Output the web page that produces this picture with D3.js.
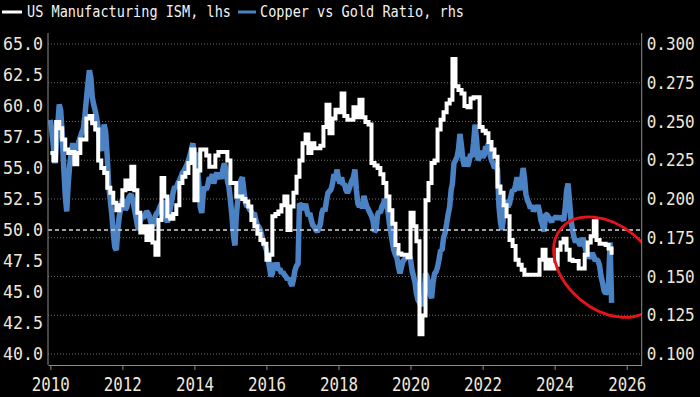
<!DOCTYPE html>
<html>
<head>
<meta charset="utf-8">
<script src="https://cdn.jsdelivr.net/npm/d3@7"></script>
<style>
  html, body { margin: 0; padding: 0; background: #000; }
  svg { display: block; }
</style>
</head>
<body>
<div id="chart"></div>
<script>
// monthly ISM readings, Jan 2010 .. Aug 2025
const ismValues = [
  56.2, 55.6, 58.7, 58.2, 57.3, 56.5, 56.2, 56.3, 55.3, 56.2, 57.3, 57.3,
  59.0, 59.2, 58.6, 58.1, 55.6, 55.0, 54.6, 53.4, 53.0, 52.2, 51.6, 52.0,
  53.2, 54.0, 53.3, 55.1, 53.2, 51.4, 49.8, 50.3, 49.2, 50.3, 49.0, 48.0,
  50.8, 54.2, 52.7, 51.1, 50.9, 51.3, 52.0, 53.8, 54.3, 54.6, 55.4, 56.5,
  52.4, 54.8, 56.5, 56.5, 56.0, 55.1, 55.1, 56.0, 56.3, 56.3, 56.3, 55.6,
  53.8, 53.8, 52.7, 52.7, 52.5, 52.3, 51.9, 50.8, 50.3, 49.7, 49.2, 48.9,
  47.6, 48.0, 51.1, 51.3, 51.5, 52.0, 52.7, 50.0, 51.9, 53.0, 54.3, 55.6,
  57.0, 57.7, 56.2, 57.0, 56.6, 56.6, 56.8, 58.3, 60.1, 57.8, 59.0, 59.7,
  59.5, 61.0, 59.2, 58.9, 58.9, 59.9, 59.1, 60.5, 59.1, 58.7, 58.5, 55.4,
  55.2, 55.0, 54.5, 53.8, 52.7, 51.6, 50.5, 48.8, 48.1, 48.0, 48.0, 47.8,
  51.4, 50.3, 49.1, 41.6, 43.1, 52.4, 53.8, 55.4, 55.6, 58.1, 58.9, 59.5,
  60.2, 60.5, 63.8, 61.6, 61.3, 61.0, 60.0, 59.9, 60.6, 60.7, 60.7, 58.3,
  58.0, 57.8, 57.1, 56.5, 55.9, 53.5, 53.0, 52.0, 51.1, 49.2, 48.7, 47.6,
  47.2, 46.8, 46.4, 46.4, 46.4, 46.4, 46.4, 47.6, 48.4, 46.9, 47.6, 46.9,
  47.2, 48.4, 49.0, 49.3, 48.4, 47.6, 47.5, 47.5, 46.9, 46.9, 48.0, 49.0,
  49.5, 50.7, 49.2, 48.9, 48.9, 48.8, 48.5, 48.0
];

// copper / gold ratio, two readings a month (1st and 16th), Jan 2010 .. Aug 2025
const cgValues = [
  0.251, 0.244, 0.234, 0.223, 0.234, 0.247, 0.261, 0.257, 0.242, 0.221, 0.202, 0.192, 0.210, 0.222, 0.230, 0.236, 0.228, 0.234, 0.232, 0.237, 0.240, 0.243, 0.245, 0.253,
  0.264, 0.274, 0.283, 0.278, 0.266, 0.261, 0.257, 0.252, 0.246, 0.236, 0.231, 0.240, 0.248, 0.243, 0.227, 0.208, 0.199, 0.190, 0.178, 0.169, 0.167, 0.180, 0.189, 0.194,
  0.200, 0.197, 0.193, 0.195, 0.200, 0.202, 0.203, 0.199, 0.194, 0.189, 0.183, 0.180, 0.185, 0.190, 0.188, 0.189, 0.192, 0.191, 0.189, 0.185, 0.182, 0.184, 0.189, 0.191,
  0.192, 0.195, 0.197, 0.199, 0.194, 0.189, 0.185, 0.188, 0.194, 0.199, 0.205, 0.208, 0.207, 0.210, 0.212, 0.214, 0.217, 0.218, 0.220, 0.222, 0.225, 0.228, 0.232, 0.236,
  0.227, 0.230, 0.221, 0.208, 0.195, 0.191, 0.204, 0.208, 0.206, 0.209, 0.214, 0.212, 0.216, 0.210, 0.214, 0.217, 0.213, 0.216, 0.213, 0.219, 0.223, 0.219, 0.212, 0.208,
  0.199, 0.189, 0.176, 0.170, 0.189, 0.199, 0.206, 0.212, 0.214, 0.206, 0.198, 0.195, 0.196, 0.193, 0.192, 0.190, 0.191, 0.186, 0.183, 0.182, 0.180, 0.176, 0.172, 0.170,
  0.167, 0.162, 0.156, 0.150, 0.152, 0.159, 0.154, 0.159, 0.154, 0.155, 0.152, 0.153, 0.151, 0.150, 0.148, 0.149, 0.146, 0.144, 0.148, 0.154, 0.157, 0.158, 0.197, 0.196,
  0.195, 0.193, 0.197, 0.192, 0.189, 0.191, 0.186, 0.183, 0.182, 0.180, 0.179, 0.181, 0.184, 0.191, 0.194, 0.192, 0.199, 0.204, 0.205, 0.206, 0.210, 0.216, 0.212, 0.219,
  0.213, 0.210, 0.214, 0.209, 0.210, 0.206, 0.204, 0.206, 0.209, 0.212, 0.214, 0.219, 0.206, 0.197, 0.195, 0.197, 0.194, 0.202, 0.198, 0.195, 0.193, 0.191, 0.189, 0.186,
  0.179, 0.180, 0.190, 0.192, 0.191, 0.195, 0.197, 0.200, 0.196, 0.193, 0.184, 0.178, 0.172, 0.167, 0.164, 0.162, 0.156, 0.152, 0.156, 0.160, 0.161, 0.163, 0.162, 0.164,
  0.161, 0.154, 0.150, 0.146, 0.139, 0.135, 0.133, 0.131, 0.134, 0.137, 0.152, 0.150, 0.146, 0.139, 0.136, 0.146, 0.152, 0.153, 0.156, 0.161, 0.167, 0.167, 0.175, 0.178,
  0.184, 0.190, 0.195, 0.206, 0.210, 0.223, 0.225, 0.227, 0.232, 0.242, 0.234, 0.225, 0.221, 0.227, 0.221, 0.224, 0.229, 0.227, 0.236, 0.248, 0.238, 0.225, 0.227, 0.231,
  0.227, 0.228, 0.234, 0.232, 0.236, 0.229, 0.225, 0.223, 0.220, 0.221, 0.219, 0.195, 0.185, 0.180, 0.188, 0.199, 0.197, 0.195, 0.197, 0.202, 0.206, 0.205, 0.209, 0.214,
  0.208, 0.206, 0.212, 0.220, 0.214, 0.203, 0.199, 0.197, 0.194, 0.196, 0.192, 0.194, 0.193, 0.196, 0.192, 0.186, 0.183, 0.179, 0.190, 0.190, 0.188, 0.187, 0.185, 0.188,
  0.187, 0.189, 0.187, 0.189, 0.187, 0.188, 0.186, 0.193, 0.205, 0.210, 0.198, 0.186, 0.180, 0.175, 0.172, 0.174, 0.172, 0.170, 0.172, 0.175, 0.170, 0.166, 0.164, 0.162,
  0.163, 0.165, 0.163, 0.160, 0.161, 0.160, 0.157, 0.150, 0.146, 0.141, 0.139, 0.140, 0.145, 0.172, 0.133
];

const leftTicks = [40, 42.5, 45, 47.5, 50, 52.5, 55, 57.5, 60, 62.5, 65];
const rightTicks = [0.1, 0.125, 0.15, 0.175, 0.2, 0.225, 0.25, 0.275, 0.3];
const yearTicks = [2010, 2012, 2014, 2016, 2018, 2020, 2022, 2024, 2026];
const seriesNames = ["US Manufacturing ISM, lhs", "Copper vs Gold Ratio, rhs"];

const W = 700, H = 397;
const plotL = 48, plotR = 641.7, plotT = 33, plotB = 365;
const white = "#ffffff", blue = "#4b82c4", axisGray = "#8c8c8c", labelColor = "#f0e8d8";
const mono = "'DejaVu Sans Mono', monospace";

const ism = ismValues.map((v, i) => ({ date: new Date(2010, i, 1), value: v }));
const cg = cgValues.map((v, k) => ({ date: new Date(2010, Math.floor(k / 2), k % 2 ? 16 : 1), value: v }));

const svg = d3.select("#chart").append("svg")
  .attr("width", W)
  .attr("height", H)
  .style("background", "#000");

const x = d3.scaleTime()
  .domain([new Date(2009, 11, 8), new Date(2026, 5, 2)])
  .range([plotL, plotR]);
const yL = d3.scaleLinear().domain([40, 65]).range([354, 44]);
const yR = d3.scaleLinear().domain([0.1, 0.3]).range([354, 44]);

svg.append("clipPath").attr("id", "plot-clip")
  .append("rect")
  .attr("x", plotL).attr("y", plotT)
  .attr("width", plotR - plotL).attr("height", plotB - plotT);

// dotted grid follows the right axis
svg.append("g")
  .selectAll("line")
  .data(rightTicks)
  .join("line")
  .attr("x1", plotL).attr("x2", plotR)
  .attr("y1", d => yR(d)).attr("y2", d => yR(d))
  .attr("stroke", "#6e6e6e")
  .attr("stroke-dasharray", "1,2");

const plot = svg.append("g").attr("clip-path", "url(#plot-clip)");

plot.append("path")
  .datum(cg)
  .attr("fill", "none")
  .attr("stroke", blue)
  .attr("stroke-width", 5.5)
  .attr("stroke-linejoin", "bevel")
  .attr("d", d3.line().x(d => x(d.date)).y(d => yR(d.value)));

// 50 line on the ISM scale
plot.append("line")
  .attr("x1", plotL).attr("x2", plotR)
  .attr("y1", yL(50)).attr("y2", yL(50))
  .attr("stroke", "#d8d8d8")
  .attr("stroke-width", 1.3)
  .attr("stroke-dasharray", "4,3");

plot.append("path")
  .datum(ism)
  .attr("fill", "none")
  .attr("stroke", white)
  .attr("stroke-width", 4)
  .attr("d", d3.line().curve(d3.curveStepAfter).x(d => x(d.date)).y(d => yL(d.value)));

// red circle annotation on the latest readings
const cx = x(new Date(2025, 5, 15)), cy = yL(47);
plot.append("ellipse")
  .attr("cx", cx).attr("cy", cy)
  .attr("rx", 60).attr("ry", 42)
  .attr("transform", `rotate(40,${cx},${cy})`)
  .attr("fill", "none")
  .attr("stroke", "#e3141c")
  .attr("stroke-width", 2.8);

// axes
const gL = svg.append("g")
  .attr("transform", `translate(${plotL},0)`)
  .call(d3.axisLeft(yL).tickValues(leftTicks).tickFormat(d3.format(".1f")).tickSize(0).tickPadding(5));
gL.select(".domain").remove();
gL.selectAll("text")
  .attr("font-family", mono).attr("font-size", 17.5).attr("fill", labelColor)
  .attr("textLength", 40).attr("lengthAdjust", "spacingAndGlyphs");

const gR = svg.append("g")
  .attr("transform", `translate(${plotR},0)`)
  .call(d3.axisRight(yR).tickValues(rightTicks).tickFormat(d3.format(".3f")).tickSize(0).tickPadding(5));
gR.select(".domain").remove();
gR.selectAll("text")
  .attr("font-family", mono).attr("font-size", 17.5).attr("fill", labelColor)
  .attr("textLength", 48).attr("lengthAdjust", "spacingAndGlyphs");

const gB = svg.append("g")
  .attr("transform", `translate(0,${plotB})`)
  .call(d3.axisBottom(x)
    .tickValues(yearTicks.map(y => new Date(y, 0, 1)))
    .tickFormat(d3.timeFormat("%Y"))
    .tickSize(5).tickSizeOuter(0).tickPadding(7));
gB.select(".domain").attr("stroke", axisGray);
gB.selectAll(".tick line").attr("stroke", axisGray);
gB.selectAll("text")
  .attr("font-family", mono).attr("font-size", 20).attr("fill", labelColor)
  .attr("textLength", 38).attr("lengthAdjust", "spacingAndGlyphs");

[plotL, plotR].forEach(px => {
  svg.append("line")
    .attr("x1", px).attr("x2", px)
    .attr("y1", plotT).attr("y2", plotB)
    .attr("stroke", axisGray);
});

// legend
const legend = [
  { name: seriesNames[0], color: white, x0: 2, x1: 22, tx: 27 },
  { name: seriesNames[1], color: blue, x0: 238, x1: 256, tx: 260 }
];
const lg = svg.append("g");
lg.selectAll("line")
  .data(legend)
  .join("line")
  .attr("x1", d => d.x0).attr("x2", d => d.x1)
  .attr("y1", 12).attr("y2", 12)
  .attr("stroke", d => d.color)
  .attr("stroke-width", 3);
lg.selectAll("text")
  .data(legend)
  .join("text")
  .attr("x", d => d.tx).attr("y", 17)
  .attr("font-family", mono).attr("font-size", 15)
  .attr("fill", "#f2f2f2")
  .attr("textLength", 204).attr("lengthAdjust", "spacingAndGlyphs")
  .text(d => d.name);
</script>
</body>
</html>
